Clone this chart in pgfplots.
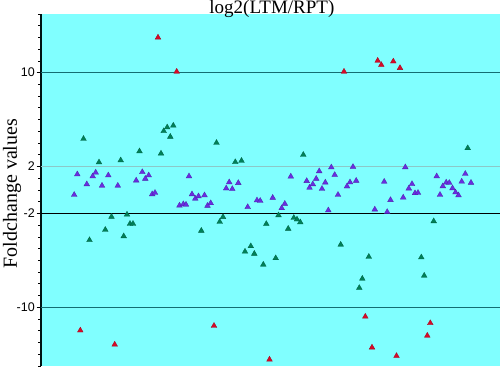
\documentclass[border=0pt]{standalone}
\usepackage{fontspec}
\setmainfont{Liberation Serif}
\setsansfont{Liberation Sans}
\usepackage{pgfplots}
\pgfplotsset{compat=1.18}
\definecolor{bg}{RGB}{128,255,255}
\definecolor{redm}{RGB}{215,10,40}
\definecolor{greenm}{RGB}{0,128,88}
\definecolor{purplem}{RGB}{105,45,225}
\definecolor{tealline}{RGB}{20,110,115}
\definecolor{lightline}{RGB}{140,200,200}
\begin{document}
\begin{tikzpicture}
\begin{axis}[
  scale only axis, width=459pt, height=352pt,
  xmin=41, xmax=500, ymin=-15, ymax=15,
  axis x line=none, axis y line*=left,
  y axis line style={-, line width=1.3pt, draw=black!85!teal},
  axis background/.style={fill=bg},
  ytick={-10,-2,2,10}, yticklabels={-10,-2,2,10},
  minor ytick={-15,-14,...,15},
  tick align=outside, major tick length=4.5pt, minor tick length=3pt,
  every tick/.style={black, line width=0.8pt},
  yticklabel style={font=\sffamily\fontsize{12.5}{14}\selectfont, inner sep=1.5pt},
  ylabel={Foldchange values},
  ylabel style={font=\fontsize{20}{23}\selectfont, at={(axis description cs:0,0.49)}, anchor=center, yshift=29pt},
]
\coordinate (sw) at (rel axis cs:0,0);
\coordinate (ne) at (rel axis cs:1,1);
\coordinate (tt) at (rel axis cs:0.503,1);
\addplot[lightline, line width=1pt] coordinates {(41,2) (500,2)};
\addplot[black, line width=1.2pt] coordinates {(41,-2) (500,-2)};
\addplot[tealline, line width=1.5pt] coordinates {(41,10) (500,10)};
\addplot[tealline, line width=1.5pt] coordinates {(41,-10) (500,-10)};
% purple
\addplot[only marks, mark=triangle*, mark size=3.3pt, color=purplem, mark options={draw=purplem!75!black, line width=0.3pt}] coordinates {
(74.2,-0.41) (77.3,1.34) (86.8,0.49) (92.7,1.17) (95.7,1.49) (102,0.37) (108.3,1.25) (117.8,0.37)
(136.2,0.81) (142.3,1.53) (145.3,0.96) (148.7,1.25) (152.2,-0.36) (155,-0.24) (179.5,-1.32) (183.3,-1.21)
(186,-1.25) (189,1.17) (192,-0.36) (195.3,-0.74) (198.5,-0.53) (204.5,-0.45) (207.5,-1.34) (210.7,-1.12)
(226.2,0.14) (229.2,0.66) (232.3,0.09) (238.3,0.60) (247.7,-1.45) (257,-0.88) (260.2,-0.92) (272.7,-0.66)
(281.7,-1.55) (284.8,-1.17) (290.8,1.15) (306.7,0.77) (309.5,0.20) (312.8,0.49) (316.2,0.96) (319.2,1.60)
(322,0.10) (325.3,0.64) (328.3,-1.73) (331.3,1.93) (334.7,1.29) (338,-0.41) (347,0.31) (350,0.66)
(353,1.97) (356.2,0.79) (374.8,-1.66) (384.2,0.71) (387.2,-1.87) (390.5,-0.85) (403.2,-0.64) (405.3,1.94)
(408.8,0.13) (412,0.51) (415,-0.27) (418,-0.24) (436.7,1.17) (440,-0.41) (442.8,0.32) (446.2,0.64)
(449.3,0.61) (452.5,0.15) (455.5,-0.20) (458.5,-0.45) (461.7,0.72) (465.3,1.38) (471,0.62)
};
% green
\addplot[only marks, mark=triangle*, mark size=3.3pt, color=greenm, mark options={draw=greenm!75!black, line width=0.3pt}] coordinates {
(83.5,4.36) (99,2.36) (120.7,2.53) (139.5,3.30) (161,3.11) (163.7,5.02) (167.2,5.34) (170.3,4.54)
(173.3,5.49) (216.5,4.02) (235.3,2.38) (241.5,2.49) (303.3,3.00) (467.7,3.57)
(89.5,-4.27) (105.3,-3.39) (111.5,-2.28) (123.7,-3.94) (127,-2.09) (130,-2.88) (133,-2.88) (201.3,-3.47)
(219.7,-2.71) (223,-2.30) (245,-5.25) (250.8,-4.79) (254.3,-5.43) (263.3,-6.36) (266.3,-2.89) (275.7,-5.81)
(278.5,-2.15) (288.2,-3.30) (293.8,-2.37) (297,-2.51) (300.3,-2.75) (340.7,-4.66) (359.3,-8.34) (362.3,-7.56)
(368.8,-5.69) (421.3,-5.74) (424.2,-7.30) (433.7,-2.66)
};
% red
\addplot[only marks, mark=triangle*, mark size=3.3pt, color=redm, mark options={draw=redm!75!black, line width=0.3pt}] coordinates {
(80.3,-11.97) (114.7,-13.17) (158,13.00) (176.7,10.09) (214,-11.57) (269.5,-14.45) (344,10.09) (365.3,-10.79)
(372,-13.42) (377.7,11.02) (381.3,10.66) (393.3,10.96) (396.5,-14.14) (400,10.40) (427.3,-12.41) (430.3,-11.34)
};
\end{axis}
\node[font=\fontsize{19}{22}\selectfont, anchor=base, inner sep=0pt, yshift=0.5pt] at (tt) {log2(LTM/RPT)};
\pgfresetboundingbox
\path[use as bounding box] ([shift={(-41pt,-2pt)}]sw) rectangle ([shift={(0pt,14pt)}]ne);
\end{tikzpicture}
\end{document}
